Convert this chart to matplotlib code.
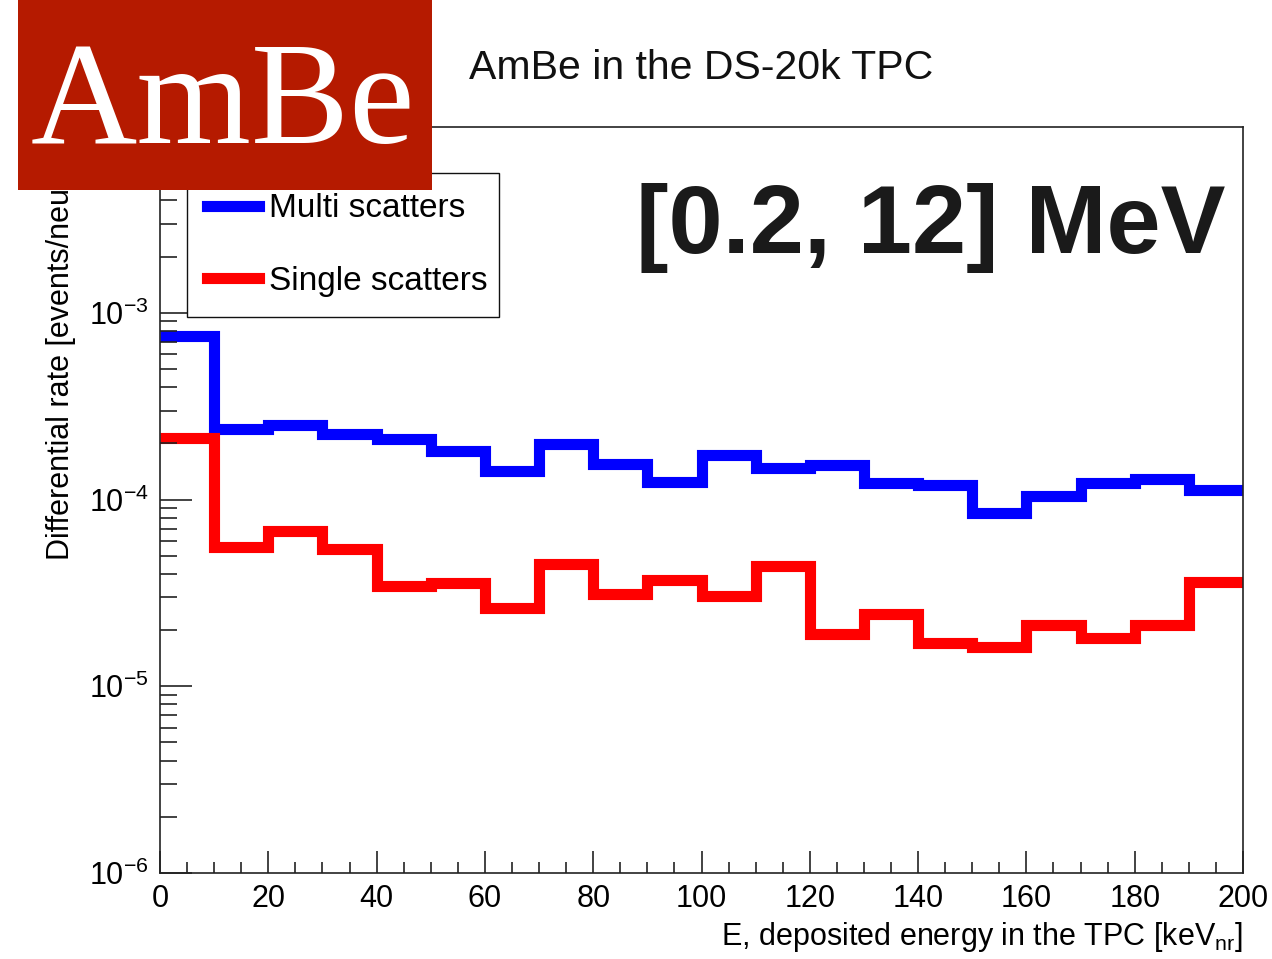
import numpy as np
import matplotlib
matplotlib.use("Agg")
import matplotlib.pyplot as plt
from matplotlib.patches import Rectangle
from matplotlib.ticker import MultipleLocator, LogLocator

plt.rcParams['font.family'] = ['Liberation Sans', 'DejaVu Sans']
plt.rcParams['mathtext.fontset'] = 'custom'
plt.rcParams['mathtext.rm'] = 'Liberation Sans'
plt.rcParams['mathtext.it'] = 'Liberation Sans:italic'
plt.rcParams['mathtext.bf'] = 'Liberation Sans:bold'

# Binning (keV_nr)
bin_edges = np.arange(0, 201, 10)

# Differential rates
multi_scatters = [7.55e-4, 2.39e-4, 2.52e-4, 2.25e-4, 2.10e-4,
                  1.82e-4, 1.43e-4, 1.99e-4, 1.55e-4, 1.24e-4,
                  1.73e-4, 1.48e-4, 1.53e-4, 1.22e-4, 1.20e-4,
                  8.43e-5, 1.04e-4, 1.22e-4, 1.29e-4, 1.12e-4]
single_scatters = [2.15e-4, 5.56e-5, 6.78e-5, 5.41e-5, 3.45e-5,
                   3.57e-5, 2.63e-5, 4.53e-5, 3.14e-5, 3.73e-5,
                   3.05e-5, 4.40e-5, 1.91e-5, 2.43e-5, 1.71e-5,
                   1.63e-5, 2.14e-5, 1.82e-5, 2.13e-5, 3.62e-5]

W, H = 1272, 959
fig = plt.figure(figsize=(W / 100, H / 100), dpi=100)
ax = fig.add_axes([160 / W, 1 - 873 / H, (1243 - 160) / W, (873 - 127) / H])

ax.stairs(multi_scatters, bin_edges, color='#0000ff', linewidth=8,
          label='Multi scatters', baseline=None)
ax.stairs(single_scatters, bin_edges, color='#ff0000', linewidth=8,
          label='Single scatters', baseline=None)

ax.set_yscale('log')
ax.set_xlim(0, 200)
ax.set_ylim(1e-6, 0.99e-2)

# ROOT-like ticks
ax.xaxis.set_major_locator(MultipleLocator(20))
ax.xaxis.set_minor_locator(MultipleLocator(5))
ax.yaxis.set_major_locator(LogLocator(base=10))
ax.yaxis.set_minor_locator(LogLocator(base=10, subs=np.arange(2, 10)))
ax.tick_params(axis='both', which='both', direction='in', top=False,
               right=False, color='#222222', width=1.2, labelsize=22)
ax.tick_params(axis='x', which='major', length=16, pad=8)
ax.tick_params(axis='x', which='minor', length=8)
ax.tick_params(axis='y', which='major', length=23, pad=8)
ax.tick_params(axis='y', which='minor', length=12)
for s in ax.spines.values():
    s.set_color('#222222')
    s.set_linewidth(1.2)

ax.set_xlabel(r'E, deposited energy in the TPC [keV$_{\mathrm{nr}}$]',
              fontsize=22, loc='right')
ax.xaxis.set_label_coords(1.0, -0.063)
ax.set_ylabel('Differential rate [events/neutron]', fontsize=22, loc='top')
ax.yaxis.set_label_coords(-0.078, 1.0)

leg = ax.legend(loc='upper left', bbox_to_anchor=(0.0249, 0.938, 0.288, 0.0),
                mode='expand', borderaxespad=0, fontsize=24,
                handlelength=1.55, handletextpad=0.3, borderpad=0.6,
                labelspacing=1.25, fancybox=False, framealpha=1,
                edgecolor='#111111')
leg.get_frame().set_linewidth(1.0)

ax.text(0.9834, 0.831, '[0.2, 12] MeV', transform=ax.transAxes,
        ha='right', va='baseline', fontsize=70, fontweight='bold',
        color='#1a1a1a')

fig.text(701.5 / W, 1 - 79 / H, 'AmBe in the DS-20k TPC', ha='center',
         va='baseline', fontsize=29.5, color='#111111')

# AmBe badge over the top-left corner
fig.patches.append(Rectangle((18 / W, 1 - 190 / H), (432 - 18) / W, 190 / H,
                             transform=fig.transFigure, facecolor='#b51a00',
                             edgecolor='none', zorder=10))
fig.text(223 / W, 1 - 143 / H, 'AmBe', ha='center', va='baseline',
         fontsize=106, color='white', family='Liberation Serif', zorder=11)

fig.savefig('out.png', dpi=100)
